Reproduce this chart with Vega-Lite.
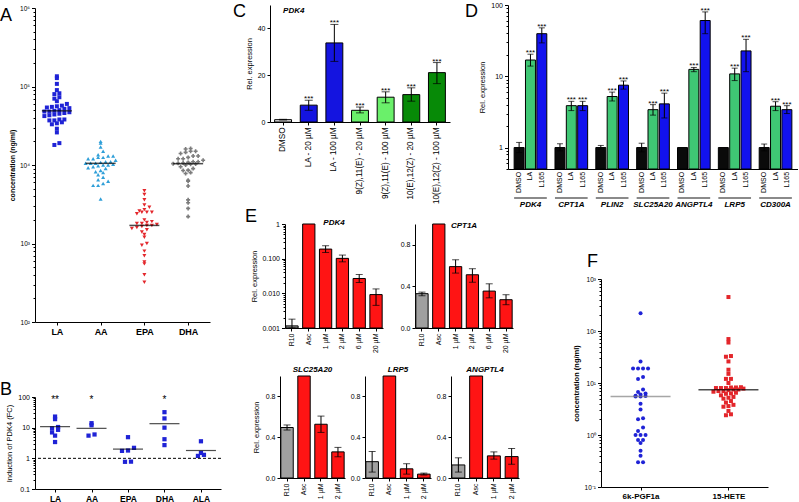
{
"$schema": "https://vega.github.io/schema/vega-lite/v6.json",
"padding": {"left": 0, "top": 1, "right": 0, "bottom": 0},
"background": "white",
"bounds": "flush",
"spacing": 235,
"resolve": {"scale": {"fill": "independent", "shape": "independent", "color": "independent", "xOffset": "independent"}},
"config": {
  "font": "Liberation Sans",
  "view": {"stroke": null},
  "axis": {"grid": false, "domainColor": "#000", "tickColor": "#000", "labelColor": "#000", "titleColor": "#000", "labelFontSize": 7, "titleFontSize": 7.5, "titleFontWeight": "normal", "tickSize": 3, "labelPadding": 2, "titlePadding": 4, "labelOverlap": false, "labelFont": "Liberation Sans", "titleFont": "Liberation Sans"},
  "title": {"font": "Liberation Sans", "fontWeight": "normal", "fontSize": 18, "anchor": "start", "frame": "group", "baseline": "alphabetic", "color": "#000"}
},
"hconcat": [
 {
  "bounds": "flush", "spacing": 2,
  "resolve": {"scale": {"fill": "independent", "shape": "independent", "color": "independent", "xOffset": "independent"}},
  "vconcat": [
   {"width": 1, "height": 1, "data": {"values": [{"k": 1}]}, "mark": {"type": "point", "opacity": 0}, "encoding": {}},
   {
    "bounds": "flush", "spacing": 75,
    "resolve": {"scale": {"fill": "independent", "shape": "independent", "color": "independent", "xOffset": "independent"}},
    "vconcat": [
     {
      "width": 175, "height": 314,
      "title": {"text": "A", "dx": -35, "offset": -20.3},
      "layer": [
       {
        "data": {"values": [
{"g":"LA","v":135000},{"g":"LA","v":128000},{"g":"LA","v":108000},{"g":"LA","v":90000},{"g":"LA","v":82000},{"g":"LA","v":80000},{"g":"LA","v":73000},{"g":"LA","v":70000},{"g":"LA","v":65000},{"g":"LA","v":60000},{"g":"LA","v":57000},{"g":"LA","v":56000},{"g":"LA","v":55000},{"g":"LA","v":54000},{"g":"LA","v":53000},{"g":"LA","v":52000},{"g":"LA","v":50000},{"g":"LA","v":49000},{"g":"LA","v":48000},{"g":"LA","v":48000},{"g":"LA","v":47000},{"g":"LA","v":46000},{"g":"LA","v":45000},{"g":"LA","v":44000},{"g":"LA","v":43000},{"g":"LA","v":42000},{"g":"LA","v":38000},{"g":"LA","v":38000},{"g":"LA","v":37000},{"g":"LA","v":37000},{"g":"LA","v":35000},{"g":"LA","v":34000},{"g":"LA","v":33000},{"g":"LA","v":29000},{"g":"LA","v":26000},{"g":"LA","v":19000},{"g":"LA","v":18000},
{"g":"AA","v":20000},{"g":"AA","v":19000},{"g":"AA","v":17000},{"g":"AA","v":15000},{"g":"AA","v":13500},{"g":"AA","v":13000},{"g":"AA","v":13000},{"g":"AA","v":12500},{"g":"AA","v":12500},{"g":"AA","v":12000},{"g":"AA","v":12000},{"g":"AA","v":11500},{"g":"AA","v":11000},{"g":"AA","v":11000},{"g":"AA","v":10800},{"g":"AA","v":10500},{"g":"AA","v":10500},{"g":"AA","v":10500},{"g":"AA","v":10200},{"g":"AA","v":10000},{"g":"AA","v":10000},{"g":"AA","v":9800},{"g":"AA","v":9500},{"g":"AA","v":9200},{"g":"AA","v":9000},{"g":"AA","v":8500},{"g":"AA","v":8200},{"g":"AA","v":8000},{"g":"AA","v":7500},{"g":"AA","v":7000},{"g":"AA","v":6500},{"g":"AA","v":6200},{"g":"AA","v":5800},{"g":"AA","v":5500},{"g":"AA","v":5500},{"g":"AA","v":3700},
{"g":"EPA","v":4700},{"g":"EPA","v":4200},{"g":"EPA","v":3600},{"g":"EPA","v":3100},{"g":"EPA","v":2900},{"g":"EPA","v":2700},{"g":"EPA","v":2600},{"g":"EPA","v":2500},{"g":"EPA","v":2500},{"g":"EPA","v":2500},{"g":"EPA","v":2400},{"g":"EPA","v":2000},{"g":"EPA","v":1900},{"g":"EPA","v":1850},{"g":"EPA","v":1800},{"g":"EPA","v":1800},{"g":"EPA","v":1750},{"g":"EPA","v":1700},{"g":"EPA","v":1700},{"g":"EPA","v":1650},{"g":"EPA","v":1600},{"g":"EPA","v":1550},{"g":"EPA","v":1500},{"g":"EPA","v":1400},{"g":"EPA","v":1300},{"g":"EPA","v":1200},{"g":"EPA","v":1000},{"g":"EPA","v":950},{"g":"EPA","v":800},{"g":"EPA","v":700},{"g":"EPA","v":580},{"g":"EPA","v":550},{"g":"EPA","v":400},{"g":"EPA","v":320},
{"g":"DHA","v":16200},{"g":"DHA","v":16000},{"g":"DHA","v":15000},{"g":"DHA","v":15000},{"g":"DHA","v":14500},{"g":"DHA","v":14000},{"g":"DHA","v":13000},{"g":"DHA","v":13000},{"g":"DHA","v":12500},{"g":"DHA","v":12000},{"g":"DHA","v":12000},{"g":"DHA","v":11500},{"g":"DHA","v":11000},{"g":"DHA","v":11000},{"g":"DHA","v":10800},{"g":"DHA","v":10600},{"g":"DHA","v":10500},{"g":"DHA","v":10400},{"g":"DHA","v":10300},{"g":"DHA","v":10200},{"g":"DHA","v":10000},{"g":"DHA","v":9500},{"g":"DHA","v":9000},{"g":"DHA","v":8600},{"g":"DHA","v":8500},{"g":"DHA","v":8000},{"g":"DHA","v":7800},{"g":"DHA","v":6400},{"g":"DHA","v":6200},{"g":"DHA","v":5400},{"g":"DHA","v":3600},{"g":"DHA","v":3300},{"g":"DHA","v":2800},{"g":"DHA","v":2200}
        ]},
        "transform": [
         {"calculate": "floor(log(datum.v)/LN10/0.055)", "as": "b"},
         {"window": [{"op": "row_number", "as": "r"}], "groupby": ["g", "b"], "sort": [{"field": "v", "order": "ascending"}]},
         {"joinaggregate": [{"op": "count", "as": "n"}], "groupby": ["g", "b"]},
         {"calculate": "(datum.r - 1 - (datum.n - 1) / 2) * 5", "as": "dx"}
        ],
        "mark": {"type": "point", "filled": true, "opacity": 1, "size": 16},
        "encoding": {
         "x": {"field": "g", "type": "nominal", "scale": {"type": "point", "domain": ["LA", "AA", "EPA", "DHA"], "padding": 0.5}, "axis": {"title": null, "labelFontWeight": "bold", "labelFontSize": 9, "labelAngle": 0}},
         "xOffset": {"field": "dx", "type": "quantitative", "scale": {"domain": [-40, 40], "range": [-40, 40]}},
         "y": {"field": "v", "type": "quantitative", "scale": {"type": "log", "domain": [100, 1000000], "nice": false},
               "axis": {"title": "concentration (ng/ml)", "titleFontWeight": "bold", "titleFontSize": 7, "labelFontSize": 6.5,
                        "values": [100,200,300,400,500,600,700,800,900,1000,2000,3000,4000,5000,6000,7000,8000,9000,10000,20000,30000,40000,50000,60000,70000,80000,90000,100000,200000,300000,400000,500000,600000,700000,800000,900000,1000000],
                        "labelExpr": "abs(log(datum.value)/LN10-round(log(datum.value)/LN10))<0.001 ? '10' + ['⁻¹','⁰','¹','²','³','⁴','⁵','⁶'][round(log(datum.value)/LN10)+1] : ''",
                        "tickSize": {"condition": {"test": "abs(log(datum.value)/LN10-round(log(datum.value)/LN10))<0.001", "value": 3.5}, "value": 2}}},
         "fill": {"field": "g", "type": "nominal", "scale": {"domain": ["LA", "AA", "EPA", "DHA"], "range": ["#1f23d6", "#2f9fd8", "#e3262b", "#7c7c7c"]}, "legend": null},
         "shape": {"field": "g", "type": "nominal", "scale": {"domain": ["LA", "AA", "EPA", "DHA"], "range": ["square", "triangle-up", "triangle-down", "cross"]}, "legend": null}
        }
       },
       {
        "data": {"values": [{"g":"LA","m":49000},{"g":"AA","m":10500},{"g":"EPA","m":1700},{"g":"DHA","m":10400}]},
        "mark": {"type": "tick", "size": 30, "thickness": 1.5, "color": "#000"},
        "encoding": {"x": {"field": "g", "type": "nominal"}, "y": {"field": "m", "type": "quantitative"}}
       }
      ]
     },
     {
      "width": 186, "height": 92,
      "title": {"text": "B", "dx": -35, "offset": -5.5},
      "layer": [
       {
        "data": {"values": [
{"g":"LA","v":23},{"g":"LA","v":19},{"g":"LA","v":10.5},{"g":"LA","v":9.5},{"g":"LA","v":8.5},{"g":"LA","v":7},{"g":"LA","v":5.5},{"g":"LA","v":3.4},
{"g":"AA","v":14},{"g":"AA","v":12},{"g":"AA","v":6},{"g":"AA","v":5.5},
{"g":"EPA","v":4.9},{"g":"EPA","v":2.2},{"g":"EPA","v":1.8},{"g":"EPA","v":1.75},{"g":"EPA","v":0.78},{"g":"EPA","v":0.77},
{"g":"DHA","v":32},{"g":"DHA","v":20},{"g":"DHA","v":10},{"g":"DHA","v":4.2},{"g":"DHA","v":2.7},
{"g":"ALA","v":3.6},{"g":"ALA","v":1.5},{"g":"ALA","v":1.3},{"g":"ALA","v":1.2}
        ]},
        "transform": [
         {"calculate": "floor(log(datum.v)/LN10/0.12)", "as": "b"},
         {"window": [{"op": "row_number", "as": "r"}], "groupby": ["g", "b"], "sort": [{"field": "v", "order": "ascending"}]},
         {"joinaggregate": [{"op": "count", "as": "n"}], "groupby": ["g", "b"]},
         {"calculate": "(datum.r - 1 - (datum.n - 1) / 2) * 6", "as": "dx"}
        ],
        "mark": {"type": "square", "filled": true, "size": 18, "color": "#1f23d6", "opacity": 1},
        "encoding": {
         "x": {"field": "g", "type": "nominal", "scale": {"type": "point", "domain": ["LA", "AA", "EPA", "DHA", "ALA"], "padding": 0.55}, "axis": {"title": null, "labelFontWeight": "bold", "labelFontSize": 8.5, "labelAngle": 0}},
         "xOffset": {"field": "dx", "type": "quantitative", "scale": {"domain": [-40, 40], "range": [-40, 40]}},
         "y": {"field": "v", "type": "quantitative", "scale": {"type": "log", "domain": [0.1, 100], "nice": false},
               "axis": {"title": "Induction of PDK4 (FC)", "titleFontSize": 7.5,
                        "values": [0.1,0.2,0.3,0.4,0.5,0.6,0.7,0.8,0.9,1,2,3,4,5,6,7,8,9,10,20,30,40,50,60,70,80,90,100],
                        "labelExpr": "abs(log(datum.value)/LN10-round(log(datum.value)/LN10))<0.001 ? (datum.value < 1 ? format(datum.value, '.1f') : format(datum.value, 'd')) : ''",
                        "tickSize": {"condition": {"test": "abs(log(datum.value)/LN10-round(log(datum.value)/LN10))<0.001", "value": 3.5}, "value": 2}}}
        }
       },
       {
        "data": {"values": [{"g":"LA","m":10.8},{"g":"AA","m":9.5},{"g":"EPA","m":2.0},{"g":"DHA","m":13.5},{"g":"ALA","m":1.8}]},
        "mark": {"type": "tick", "size": 30, "thickness": 1.2, "color": "#000"},
        "encoding": {"x": {"field": "g", "type": "nominal"}, "y": {"field": "m", "type": "quantitative"}}
       },
       {
        "data": {"values": [{"g":"LA","s":"**"},{"g":"AA","s":"*"},{"g":"DHA","s":"*"}]},
        "mark": {"type": "text", "fontSize": 10, "baseline": "alphabetic", "color": "#000"},
        "encoding": {"x": {"field": "g", "type": "nominal"}, "y": {"datum": 62}, "text": {"field": "s"}}
       },
       {
        "data": {"values": [{"ref": 1}]},
        "mark": {"type": "rule", "strokeDash": [3, 2], "color": "#000", "strokeWidth": 1},
        "encoding": {"y": {"field": "ref", "type": "quantitative"}}
       }
      ]
     }
    ]
   }
  ]
 },
 {
  "bounds": "flush", "spacing": 219,
  "resolve": {"scale": {"fill": "independent", "shape": "independent", "color": "independent", "xOffset": "independent"}},
  "vconcat": [
   {
    "bounds": "flush", "spacing": 58,
    "resolve": {"scale": {"fill": "independent", "shape": "independent", "color": "independent", "xOffset": "independent"}},
    "hconcat": [
     {
      "width": 180, "height": 117,
      "title": {"text": "C", "dx": -37, "offset": -15.5},
      "data": {"values": [
       {"t": "DMSO", "v": 1.0, "lo": 0.85, "hi": 1.15, "grp": "ctrl", "sig": ""},
       {"t": "LA - 20 µM", "v": 7.2, "lo": 5.0, "hi": 9.3, "grp": "LA", "sig": "***"},
       {"t": "LA - 100 µM", "v": 33.8, "lo": 25.9, "hi": 41.7, "grp": "LA", "sig": "***"},
       {"t": "9(Z),11(E) - 20 µM", "v": 5.0, "lo": 3.9, "hi": 6.4, "grp": "9Z11E", "sig": "***"},
       {"t": "9(Z),11(E) - 100 µM", "v": 10.6, "lo": 8.2, "hi": 12.9, "grp": "9Z11E", "sig": "***"},
       {"t": "10(E),12(Z) - 20 µM", "v": 11.7, "lo": 8.9, "hi": 14.6, "grp": "10E12Z", "sig": "***"},
       {"t": "10(E),12(Z) - 100 µM", "v": 21.1, "lo": 16.4, "hi": 25.4, "grp": "10E12Z", "sig": "***"}
      ]},
      "encoding": {"x": {"field": "t", "type": "nominal", "sort": null, "scale": {"paddingInner": 0.34, "paddingOuter": 0.18}, "axis": {"title": null, "labelAngle": 270, "labelFontSize": 8.2}}},
      "layer": [
       {"mark": {"type": "bar", "stroke": "#000", "strokeWidth": 1},
        "encoding": {"y": {"field": "v", "type": "quantitative", "scale": {"domain": [0, 50]}, "axis": {"title": "Rel. expression", "values": [0, 10, 20, 30, 40, 50]}},
                     "fill": {"field": "grp", "type": "nominal", "scale": {"domain": ["ctrl", "LA", "9Z11E", "10E12Z"], "range": ["#e6e6e6", "#1414e0", "#6af06a", "#078a07"]}, "legend": null}}},
       {"mark": {"type": "rule", "color": "#000"}, "encoding": {"y": {"field": "lo", "type": "quantitative"}, "y2": {"field": "hi"}}},
       {"mark": {"type": "tick", "color": "#000", "size": 8, "thickness": 1}, "encoding": {"y": {"field": "lo", "type": "quantitative"}}},
       {"mark": {"type": "tick", "color": "#000", "size": 8, "thickness": 1}, "encoding": {"y": {"field": "hi", "type": "quantitative"}}},
       {"mark": {"type": "text", "fontSize": 8, "baseline": "alphabetic", "dy": 1, "color": "#000"}, "encoding": {"y": {"field": "hi", "type": "quantitative"}, "text": {"field": "sig"}}},
       {"data": {"values": [{"lab": "PDK4"}]},
        "mark": {"type": "text", "align": "left", "fontSize": 8, "fontWeight": "bold", "fontStyle": "italic", "color": "#000"},
        "encoding": {"x": {"datum": "DMSO"}, "y": {"datum": 47.3}, "text": {"field": "lab"}}}
      ]
     },
     {
      "width": 290, "height": 164,
      "title": {"text": "D", "dx": -43, "offset": -19.5},
      "data": {"values": [
       {"gene":"PDK4","trt":"DMSO","v":1,"lo":0.85,"hi":1.18,"sig":""},
       {"gene":"PDK4","trt":"LA","v":16.9,"lo":13.9,"hi":20.4,"sig":"***"},
       {"gene":"PDK4","trt":"L165","v":39.6,"lo":29.4,"hi":47.8,"sig":"***"},
       {"gene":"CPT1A","trt":"DMSO","v":1,"lo":0.9,"hi":1.13,"sig":""},
       {"gene":"CPT1A","trt":"LA","v":3.87,"lo":3.3,"hi":4.45,"sig":"***"},
       {"gene":"CPT1A","trt":"L165","v":3.87,"lo":3.3,"hi":4.45,"sig":"***"},
       {"gene":"PLIN2","trt":"DMSO","v":1,"lo":0.95,"hi":1.07,"sig":""},
       {"gene":"PLIN2","trt":"LA","v":5.2,"lo":4.5,"hi":6.0,"sig":"***"},
       {"gene":"PLIN2","trt":"L165","v":7.5,"lo":6.6,"hi":8.6,"sig":"***"},
       {"gene":"SLC25A20","trt":"DMSO","v":1,"lo":0.87,"hi":1.15,"sig":""},
       {"gene":"SLC25A20","trt":"LA","v":3.4,"lo":2.85,"hi":4.0,"sig":"***"},
       {"gene":"SLC25A20","trt":"L165","v":4.1,"lo":2.6,"hi":5.8,"sig":"***"},
       {"gene":"ANGPTL4","trt":"DMSO","v":1,"lo":null,"hi":null,"sig":""},
       {"gene":"ANGPTL4","trt":"LA","v":12.5,"lo":11.6,"hi":13.3,"sig":"***"},
       {"gene":"ANGPTL4","trt":"L165","v":60.6,"lo":39.6,"hi":80,"sig":"***"},
       {"gene":"LRP5","trt":"DMSO","v":1,"lo":null,"hi":null,"sig":""},
       {"gene":"LRP5","trt":"LA","v":10.8,"lo":8.7,"hi":13,"sig":"***"},
       {"gene":"LRP5","trt":"L165","v":22.7,"lo":11.6,"hi":33,"sig":"***"},
       {"gene":"CD300A","trt":"DMSO","v":1,"lo":0.9,"hi":1.12,"sig":""},
       {"gene":"CD300A","trt":"LA","v":3.8,"lo":3.3,"hi":4.4,"sig":"***"},
       {"gene":"CD300A","trt":"L165","v":3.4,"lo":3.0,"hi":3.87,"sig":"***"}
      ]},
      "encoding": {"x": {"field": "gene", "type": "nominal", "sort": null, "scale": {"paddingInner": 0.2, "paddingOuter": 0.15}, "axis": {"title": null, "labels": false, "ticks": false}}},
      "layer": [
       {"mark": {"type": "bar", "stroke": "#000", "strokeWidth": 1},
        "encoding": {"xOffset": {"field": "trt", "type": "nominal", "scale": {"domain": ["DMSO", "LA", "L165"], "paddingInner": 0.12}},
                     "y": {"field": "v", "type": "quantitative", "scale": {"type": "log", "domain": [0.5, 100], "nice": false},
                           "axis": {"title": "Rel. expression",
                                    "values": [0.5,0.6,0.7,0.8,0.9,1,2,3,4,5,6,7,8,9,10,20,30,40,50,60,70,80,90,100],
                                    "labelExpr": "abs(log(datum.value)/LN10-round(log(datum.value)/LN10))<0.001 ? format(datum.value, 'd') : ''",
                                    "tickSize": {"condition": {"test": "abs(log(datum.value)/LN10-round(log(datum.value)/LN10))<0.001", "value": 3.5}, "value": 2}}},
                     "y2": {"datum": 0.5},
                     "fill": {"field": "trt", "type": "nominal", "scale": {"domain": ["DMSO", "LA", "L165"], "range": ["#0a0a0a", "#3fc774", "#1212ee"]}, "legend": null}}},
       {"mark": {"type": "rule", "color": "#000"}, "encoding": {"xOffset": {"field": "trt", "type": "nominal"}, "y": {"field": "lo", "type": "quantitative"}, "y2": {"field": "hi"}}},
       {"mark": {"type": "tick", "color": "#000", "size": 6, "thickness": 1}, "encoding": {"xOffset": {"field": "trt", "type": "nominal"}, "y": {"field": "lo", "type": "quantitative"}}},
       {"mark": {"type": "tick", "color": "#000", "size": 6, "thickness": 1}, "encoding": {"xOffset": {"field": "trt", "type": "nominal"}, "y": {"field": "hi", "type": "quantitative"}}},
       {"mark": {"type": "text", "fontSize": 8, "baseline": "alphabetic", "dy": 1, "color": "#000"}, "encoding": {"xOffset": {"field": "trt", "type": "nominal"}, "y": {"field": "hi", "type": "quantitative"}, "text": {"field": "sig"}}},
       {"mark": {"type": "text", "fontSize": 7, "angle": 270, "align": "right", "baseline": "middle", "color": "#000"}, "encoding": {"xOffset": {"field": "trt", "type": "nominal"}, "y": {"datum": 0.455}, "text": {"field": "trt"}}},
       {"data": {"values": [{"gene":"PDK4"},{"gene":"CPT1A"},{"gene":"PLIN2"},{"gene":"SLC25A20"},{"gene":"ANGPTL4"},{"gene":"LRP5"},{"gene":"CD300A"}]},
        "mark": {"type": "bar", "color": "#8a8a8a"},
        "encoding": {"y": {"datum": 0.203}, "y2": {"datum": 0.19}}},
       {"data": {"values": [{"gene":"PDK4"},{"gene":"CPT1A"},{"gene":"PLIN2"},{"gene":"SLC25A20"},{"gene":"ANGPTL4"},{"gene":"LRP5"},{"gene":"CD300A"}]},
        "mark": {"type": "text", "fontSize": 8, "fontWeight": "bold", "fontStyle": "italic", "baseline": "middle", "color": "#000"},
        "encoding": {"y": {"datum": 0.155}, "text": {"field": "gene"}}}
      ]
     }
    ]
   },
   {
    "bounds": "flush", "spacing": 9,
    "resolve": {"scale": {"fill": "independent", "shape": "independent", "color": "independent", "xOffset": "independent"}},
    "hconcat": [
     {"width": 1, "height": 1, "data": {"values": [{"k": 1}]}, "mark": {"type": "point", "opacity": 0}, "encoding": {}},
     {
      "bounds": "flush", "spacing": 321,
      "resolve": {"scale": {"fill": "independent", "shape": "independent", "color": "independent", "xOffset": "independent"}},
      "hconcat": [
       {
        "bounds": "flush", "spacing": 152,
        "resolve": {"scale": {"fill": "independent", "shape": "independent", "color": "independent", "xOffset": "independent"}},
        "vconcat": [
         {
          "bounds": "flush", "spacing": 4,
          "resolve": {"scale": {"fill": "independent", "shape": "independent", "color": "independent", "xOffset": "independent"}},
          "hconcat": [
           {"width": 1, "height": 1, "title": {"text": "E", "dx": -35, "offset": -4}, "data": {"values": [{"k": 1}]}, "mark": {"type": "point", "opacity": 0}, "encoding": {}},
           {
            "bounds": "flush", "spacing": 32,
            "resolve": {"scale": {"fill": "independent", "shape": "independent", "color": "independent", "xOffset": "independent"}},
            "hconcat": [
             {
              "width": 98, "height": 104,
              "title": {"text": "PDK4", "anchor": "middle", "fontSize": 8, "fontWeight": "bold", "fontStyle": "italic", "offset": -6.5},
              "data": {"values": [
               {"t":"R10","v":0.00115,"lo":0.001,"hi":0.0018,"g":"R10"},
               {"t":"Asc","v":1,"lo":null,"hi":null,"g":"T"},
               {"t":"1 µM","v":0.189,"lo":0.151,"hi":0.236,"g":"T"},
               {"t":"2 µM","v":0.102,"lo":0.081,"hi":0.127,"g":"T"},
               {"t":"6 µM","v":0.0268,"lo":0.0205,"hi":0.035,"g":"T"},
               {"t":"20 µM","v":0.0092,"lo":0.0045,"hi":0.0134,"g":"T"}
              ]},
              "encoding": {"x": {"field": "t", "type": "nominal", "sort": null, "scale": {"paddingInner": 0.27, "paddingOuter": 0.05}, "axis": {"title": null, "labelAngle": 270}}},
              "layer": [
               {"mark": {"type": "bar", "stroke": "#000", "strokeWidth": 1},
                "encoding": {"y": {"field": "v", "type": "quantitative", "scale": {"type": "log", "domain": [0.001, 1], "nice": false},
                                   "axis": {"title": "Rel. expression", "titlePadding": 3,
                                            "values": [0.001,0.002,0.003,0.004,0.005,0.006,0.007,0.008,0.009,0.01,0.02,0.03,0.04,0.05,0.06,0.07,0.08,0.09,0.1,0.2,0.3,0.4,0.5,0.6,0.7,0.8,0.9,1],
                                            "labelExpr": "abs(log(datum.value)/LN10-round(log(datum.value)/LN10))<0.001 ? (datum.value >= 1 ? '1' : format(datum.value, '.3f')) : ''",
                                            "tickSize": {"condition": {"test": "abs(log(datum.value)/LN10-round(log(datum.value)/LN10))<0.001", "value": 3.5}, "value": 2}}},
                             "y2": {"datum": 0.001},
                             "fill": {"field": "g", "type": "nominal", "scale": {"domain": ["R10", "T"], "range": ["#a0a0a0", "#ff1414"]}, "legend": null}}},
               {"mark": {"type": "rule", "color": "#000"}, "encoding": {"y": {"field": "lo", "type": "quantitative"}, "y2": {"field": "hi"}}},
               {"mark": {"type": "tick", "color": "#000", "size": 7, "thickness": 1}, "encoding": {"y": {"field": "lo", "type": "quantitative"}}},
               {"mark": {"type": "tick", "color": "#000", "size": 7, "thickness": 1}, "encoding": {"y": {"field": "hi", "type": "quantitative"}}}
              ]
             },
             {
              "width": 98, "height": 104,
              "title": {"text": "CPT1A", "anchor": "middle", "fontSize": 8, "fontWeight": "bold", "fontStyle": "italic", "offset": -6.5},
              "data": {"values": [
               {"t":"R10","v":0.33,"lo":0.31,"hi":0.345,"g":"R10"},
               {"t":"Asc","v":1,"lo":null,"hi":null,"g":"T"},
               {"t":"1 µM","v":0.59,"lo":0.528,"hi":0.656,"g":"T"},
               {"t":"2 µM","v":0.512,"lo":0.44,"hi":0.57,"g":"T"},
               {"t":"6 µM","v":0.355,"lo":0.29,"hi":0.425,"g":"T"},
               {"t":"20 µM","v":0.272,"lo":0.224,"hi":0.32,"g":"T"}
              ]},
              "encoding": {"x": {"field": "t", "type": "nominal", "sort": null, "scale": {"paddingInner": 0.27, "paddingOuter": 0.05}, "axis": {"title": null, "labelAngle": 270}}},
              "layer": [
               {"mark": {"type": "bar", "stroke": "#000", "strokeWidth": 1},
                "encoding": {"y": {"field": "v", "type": "quantitative", "scale": {"domain": [0, 1]}, "axis": {"title": null, "values": [0, 0.2, 0.4, 0.6, 0.8, 1], "format": ".1f"}},
                             "fill": {"field": "g", "type": "nominal", "scale": {"domain": ["R10", "T"], "range": ["#a0a0a0", "#ff1414"]}, "legend": null}}},
               {"mark": {"type": "rule", "color": "#000"}, "encoding": {"y": {"field": "lo", "type": "quantitative"}, "y2": {"field": "hi"}}},
               {"mark": {"type": "tick", "color": "#000", "size": 7, "thickness": 1}, "encoding": {"y": {"field": "lo", "type": "quantitative"}}},
               {"mark": {"type": "tick", "color": "#000", "size": 7, "thickness": 1}, "encoding": {"y": {"field": "hi", "type": "quantitative"}}}
              ]
             }
            ]
           }
          ]
         },
         {
          "bounds": "flush", "spacing": 20,
          "resolve": {"scale": {"fill": "independent", "shape": "independent", "color": "independent", "xOffset": "independent"}},
          "hconcat": [
           {
            "width": 65, "height": 102,
            "title": {"text": "SLC25A20", "anchor": "middle", "fontSize": 8, "fontWeight": "bold", "fontStyle": "italic", "offset": 1.5},
            "data": {"values": [
             {"t":"R10","v":0.495,"lo":0.47,"hi":0.52,"g":"R10"},
             {"t":"Asc","v":1,"lo":null,"hi":null,"g":"T"},
             {"t":"1 µM","v":0.527,"lo":0.447,"hi":0.607,"g":"T"},
             {"t":"2 µM","v":0.256,"lo":0.208,"hi":0.3,"g":"T"}
            ]},
            "encoding": {"x": {"field": "t", "type": "nominal", "sort": null, "scale": {"paddingInner": 0.27, "paddingOuter": 0.05}, "axis": {"title": null, "labelAngle": 270}}},
            "layer": [
             {"mark": {"type": "bar", "stroke": "#000", "strokeWidth": 1},
              "encoding": {"y": {"field": "v", "type": "quantitative", "scale": {"domain": [0, 1]}, "axis": {"title": "Rel. expression", "titlePadding": 5, "values": [0, 0.2, 0.4, 0.6, 0.8, 1], "format": ".1f"}},
                           "fill": {"field": "g", "type": "nominal", "scale": {"domain": ["R10", "T"], "range": ["#a0a0a0", "#ff1414"]}, "legend": null}}},
             {"mark": {"type": "rule", "color": "#000"}, "encoding": {"y": {"field": "lo", "type": "quantitative"}, "y2": {"field": "hi"}}},
             {"mark": {"type": "tick", "color": "#000", "size": 7, "thickness": 1}, "encoding": {"y": {"field": "lo", "type": "quantitative"}}},
             {"mark": {"type": "tick", "color": "#000", "size": 7, "thickness": 1}, "encoding": {"y": {"field": "hi", "type": "quantitative"}}}
            ]
           },
           {
            "width": 66, "height": 102,
            "title": {"text": "LRP5", "anchor": "middle", "fontSize": 8, "fontWeight": "bold", "fontStyle": "italic", "offset": 1.5},
            "data": {"values": [
             {"t":"R10","v":0.16,"lo":0.058,"hi":0.26,"g":"R10"},
             {"t":"Asc","v":1,"lo":null,"hi":null,"g":"T"},
             {"t":"1 µM","v":0.09,"lo":0.038,"hi":0.14,"g":"T"},
             {"t":"2 µM","v":0.038,"lo":0.029,"hi":0.048,"g":"T"}
            ]},
            "encoding": {"x": {"field": "t", "type": "nominal", "sort": null, "scale": {"paddingInner": 0.27, "paddingOuter": 0.05}, "axis": {"title": null, "labelAngle": 270}}},
            "layer": [
             {"mark": {"type": "bar", "stroke": "#000", "strokeWidth": 1},
              "encoding": {"y": {"field": "v", "type": "quantitative", "scale": {"domain": [0, 1]}, "axis": {"title": null, "values": [0, 0.2, 0.4, 0.6, 0.8, 1], "format": ".1f"}},
                           "fill": {"field": "g", "type": "nominal", "scale": {"domain": ["R10", "T"], "range": ["#a0a0a0", "#ff1414"]}, "legend": null}}},
             {"mark": {"type": "rule", "color": "#000"}, "encoding": {"y": {"field": "lo", "type": "quantitative"}, "y2": {"field": "hi"}}},
             {"mark": {"type": "tick", "color": "#000", "size": 7, "thickness": 1}, "encoding": {"y": {"field": "lo", "type": "quantitative"}}},
             {"mark": {"type": "tick", "color": "#000", "size": 7, "thickness": 1}, "encoding": {"y": {"field": "hi", "type": "quantitative"}}}
            ]
           },
           {
            "width": 68, "height": 102,
            "title": {"text": "ANGPTL4", "anchor": "middle", "fontSize": 8, "fontWeight": "bold", "fontStyle": "italic", "offset": 1.5},
            "data": {"values": [
             {"t":"R10","v":0.128,"lo":0.058,"hi":0.198,"g":"R10"},
             {"t":"Asc","v":1,"lo":null,"hi":null,"g":"T"},
             {"t":"1 µM","v":0.217,"lo":0.185,"hi":0.256,"g":"T"},
             {"t":"2 µM","v":0.21,"lo":0.134,"hi":0.29,"g":"T"}
            ]},
            "encoding": {"x": {"field": "t", "type": "nominal", "sort": null, "scale": {"paddingInner": 0.27, "paddingOuter": 0.05}, "axis": {"title": null, "labelAngle": 270}}},
            "layer": [
             {"mark": {"type": "bar", "stroke": "#000", "strokeWidth": 1},
              "encoding": {"y": {"field": "v", "type": "quantitative", "scale": {"domain": [0, 1]}, "axis": {"title": null, "values": [0, 0.2, 0.4, 0.6, 0.8, 1], "format": ".1f"}},
                           "fill": {"field": "g", "type": "nominal", "scale": {"domain": ["R10", "T"], "range": ["#a0a0a0", "#ff1414"]}, "legend": null}}},
             {"mark": {"type": "rule", "color": "#000"}, "encoding": {"y": {"field": "lo", "type": "quantitative"}, "y2": {"field": "hi"}}},
             {"mark": {"type": "tick", "color": "#000", "size": 7, "thickness": 1}, "encoding": {"y": {"field": "lo", "type": "quantitative"}}},
             {"mark": {"type": "tick", "color": "#000", "size": 7, "thickness": 1}, "encoding": {"y": {"field": "hi", "type": "quantitative"}}}
            ]
           }
          ]
         }
        ]
       },
       {
        "bounds": "flush", "spacing": 54,
        "resolve": {"scale": {"fill": "independent", "shape": "independent", "color": "independent", "xOffset": "independent"}},
        "vconcat": [
         {"width": 1, "height": 1, "data": {"values": [{"k": 1}]}, "mark": {"type": "point", "opacity": 0}, "encoding": {}},
         {
          "width": 167, "height": 208,
          "title": {"text": "F", "dx": -14, "offset": 4.7},
          "layer": [
           {
            "data": {"values": [
{"g":"6k-PGF1a","v":220},{"g":"6k-PGF1a","v":26},{"g":"6k-PGF1a","v":19},{"g":"6k-PGF1a","v":19},{"g":"6k-PGF1a","v":19},{"g":"6k-PGF1a","v":19},{"g":"6k-PGF1a","v":13},{"g":"6k-PGF1a","v":12},{"g":"6k-PGF1a","v":7.5},{"g":"6k-PGF1a","v":6.7},{"g":"6k-PGF1a","v":6.3},{"g":"6k-PGF1a","v":6.0},{"g":"6k-PGF1a","v":5.7},{"g":"6k-PGF1a","v":5.6},{"g":"6k-PGF1a","v":5.5},{"g":"6k-PGF1a","v":5.5},{"g":"6k-PGF1a","v":4.0},{"g":"6k-PGF1a","v":3.1},{"g":"6k-PGF1a","v":2.1},{"g":"6k-PGF1a","v":2.0},{"g":"6k-PGF1a","v":1.4},{"g":"6k-PGF1a","v":1.2},{"g":"6k-PGF1a","v":1.0},{"g":"6k-PGF1a","v":1.0},{"g":"6k-PGF1a","v":1.0},{"g":"6k-PGF1a","v":0.8},{"g":"6k-PGF1a","v":0.8},{"g":"6k-PGF1a","v":0.7},{"g":"6k-PGF1a","v":0.5},{"g":"6k-PGF1a","v":0.4},{"g":"6k-PGF1a","v":0.3},{"g":"6k-PGF1a","v":0.3},
{"g":"15-HETE","v":450},{"g":"15-HETE","v":70},{"g":"15-HETE","v":60},{"g":"15-HETE","v":33},{"g":"15-HETE","v":32},{"g":"15-HETE","v":26},{"g":"15-HETE","v":18},{"g":"15-HETE","v":15},{"g":"15-HETE","v":12},{"g":"15-HETE","v":12},{"g":"15-HETE","v":10},{"g":"15-HETE","v":8.3},{"g":"15-HETE","v":8.2},{"g":"15-HETE","v":8.2},{"g":"15-HETE","v":8.0},{"g":"15-HETE","v":8.0},{"g":"15-HETE","v":8.0},{"g":"15-HETE","v":7.8},{"g":"15-HETE","v":7.5},{"g":"15-HETE","v":7.5},{"g":"15-HETE","v":7.3},{"g":"15-HETE","v":7.0},{"g":"15-HETE","v":7.0},{"g":"15-HETE","v":6.8},{"g":"15-HETE","v":6.5},{"g":"15-HETE","v":6.3},{"g":"15-HETE","v":6.2},{"g":"15-HETE","v":5.8},{"g":"15-HETE","v":5.4},{"g":"15-HETE","v":5.2},{"g":"15-HETE","v":5.0},{"g":"15-HETE","v":4.5},{"g":"15-HETE","v":4.2},{"g":"15-HETE","v":3.8},{"g":"15-HETE","v":3.6},{"g":"15-HETE","v":3.5},{"g":"15-HETE","v":2.9},{"g":"15-HETE","v":2.5},{"g":"15-HETE","v":2.4}
            ]},
            "transform": [
             {"calculate": "floor(log(datum.v)/LN10/0.075)", "as": "b"},
             {"window": [{"op": "row_number", "as": "r"}], "groupby": ["g", "b"], "sort": [{"field": "v", "order": "ascending"}]},
             {"joinaggregate": [{"op": "count", "as": "n"}], "groupby": ["g", "b"]},
             {"calculate": "(datum.r - 1 - (datum.n - 1) / 2) * 5", "as": "dx"}
            ],
            "mark": {"type": "point", "filled": true, "opacity": 1, "size": 16},
            "encoding": {
             "x": {"field": "g", "type": "nominal", "scale": {"type": "point", "domain": ["6k-PGF1a", "15-HETE"], "padding": 0.45}, "axis": {"title": null, "labelFontWeight": "bold", "labelFontSize": 8, "labelAngle": 0}},
             "xOffset": {"field": "dx", "type": "quantitative", "scale": {"domain": [-40, 40], "range": [-40, 40]}},
             "y": {"field": "v", "type": "quantitative", "scale": {"type": "log", "domain": [0.1, 1000], "nice": false},
                   "axis": {"title": "concentration (ng/ml)", "titleFontWeight": "bold", "titleFontSize": 7.5, "labelFontSize": 6.5,
                            "values": [0.1,0.2,0.3,0.4,0.5,0.6,0.7,0.8,0.9,1,2,3,4,5,6,7,8,9,10,20,30,40,50,60,70,80,90,100,200,300,400,500,600,700,800,900,1000],
                            "labelExpr": "abs(log(datum.value)/LN10-round(log(datum.value)/LN10))<0.001 ? '10' + ['⁻¹','⁰','¹','²','³','⁴','⁵','⁶'][round(log(datum.value)/LN10)+1] : ''",
                            "tickSize": {"condition": {"test": "abs(log(datum.value)/LN10-round(log(datum.value)/LN10))<0.001", "value": 3.5}, "value": 2}}},
             "fill": {"field": "g", "type": "nominal", "scale": {"domain": ["6k-PGF1a", "15-HETE"], "range": ["#1f23d6", "#e3262b"]}, "legend": null},
             "shape": {"field": "g", "type": "nominal", "scale": {"domain": ["6k-PGF1a", "15-HETE"], "range": ["circle", "square"]}, "legend": null}
            }
           },
           {
            "data": {"values": [{"g":"6k-PGF1a","m":5.5},{"g":"15-HETE","m":7.4}]},
            "mark": {"type": "tick", "size": 60, "thickness": 1.5},
            "encoding": {"x": {"field": "g", "type": "nominal"}, "y": {"field": "m", "type": "quantitative"},
                         "color": {"field": "g", "type": "nominal", "scale": {"domain": ["6k-PGF1a", "15-HETE"], "range": ["#808080", "#000000"]}, "legend": null}}
           }
          ]
         }
        ]
       }
      ]
     }
    ]
   }
  ]
 }
]
}
